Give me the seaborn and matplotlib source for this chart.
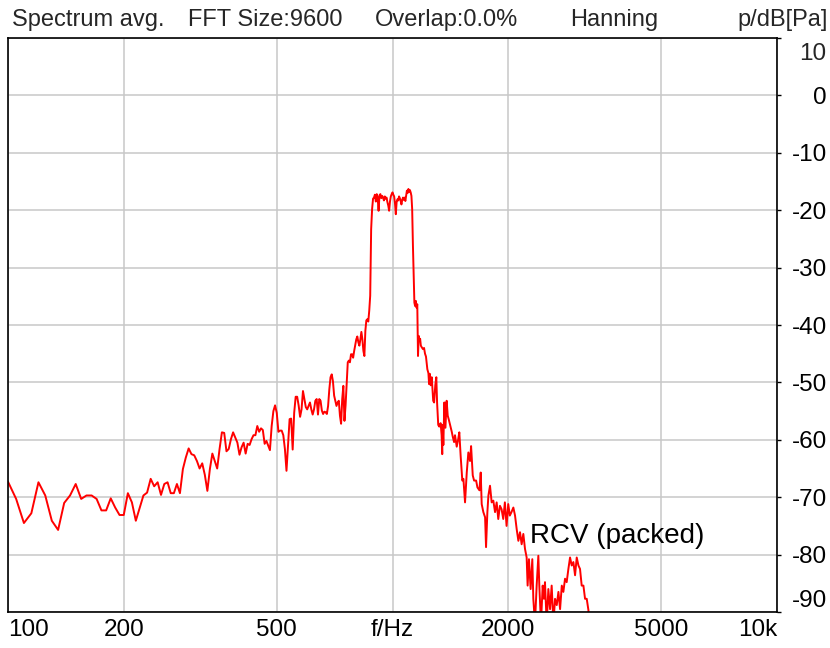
import matplotlib
matplotlib.use('Agg')
import matplotlib.pyplot as plt
from matplotlib.ticker import NullLocator
import numpy as np
import pandas as pd
import seaborn as sns

# 5 Hz FFT bins from 100 Hz up to 1165 Hz (dB re Pa)
bin_start_hz = 100
bin_step_hz = 5
band_db = [
    -67.3, -70.3, -74.5, -72.8, -67.4, -69.7, -74.1, -75.7, -71.0, -69.7,   # 100-145
    -67.7, -70.3, -69.7, -69.7, -70.3, -72.3, -72.3, -70.2, -71.8, -73.1,   # 150-195
    -73.1, -69.3, -70.9, -74.1, -71.9, -69.7, -69.2, -66.8, -68.1, -67.4,   # 200-245
    -69.6, -67.7, -67.4, -69.3, -69.3, -67.7, -69.3, -65.1, -63.1, -61.5,   # 250-295
    -62.5, -62.7, -63.7, -65.0, -64.1, -66.1, -68.9, -65.1, -62.4, -63.7,   # 300-345
    -65.0, -61.6, -58.7, -58.8, -62.0, -61.6, -59.9, -58.7, -59.6, -60.5,   # 350-395
    -62.6, -61.3, -60.5, -62.4, -60.7, -60.9, -59.9, -59.2, -59.2, -57.6,   # 400-445
    -58.6, -58.0, -58.3, -60.7, -60.2, -61.0, -61.8, -57.6, -55.0, -54.0,   # 450-495
    -55.3, -58.6, -58.4, -58.4, -59.2, -61.6, -65.4, -61.0, -56.4, -56.3,   # 500-545
    -61.7, -55.3, -52.5, -52.5, -54.0, -56.0, -54.7, -51.5, -52.9, -54.3,   # 550-595
    -54.7, -54.1, -53.5, -54.7, -55.6, -54.7, -53.2, -52.9, -55.6, -52.9,   # 600-645
    -53.2, -54.9, -55.5, -55.1, -55.2, -55.5, -54.1, -51.2, -49.1, -48.6,   # 650-695
    -49.8, -52.3, -53.2, -54.1, -53.5, -53.2, -55.8, -57.2, -52.9, -50.6,   # 700-745
    -56.7, -54.0, -50.3, -46.5, -46.2, -46.5, -45.1, -45.1, -45.7, -44.5,   # 750-795
    -43.5, -42.5, -42.0, -43.0, -43.6, -42.5, -41.2, -42.5, -44.5, -45.4,   # 800-845
    -41.0, -39.2, -39.0, -39.4, -37.5, -34.9, -23.3, -19.8, -18.0, -17.8,   # 850-895
    -17.3, -18.5, -17.2, -17.8, -20.1, -17.4, -17.2, -17.9, -17.5, -17.8,   # 900-945
    -18.3, -17.6, -18.0, -17.8, -18.6, -19.2, -20.1, -18.5, -17.6, -17.2,   # 950-995
    -16.9, -17.3, -17.6, -18.8, -20.7, -18.6, -18.1, -18.3, -17.6, -17.9,   # 1000-1045
    -18.4, -19.0, -18.2, -17.8, -18.2, -17.8, -18.4, -17.5, -16.6, -17.0,   # 1050-1095
    -16.3, -16.8, -16.5, -16.9, -17.5, -19.8, -26.0, -31.0, -36.1, -36.7,   # 1100-1145
    -35.8, -37.0, -36.4, -45.4,                                             # 1150-1165
]

# upper tail, read at the picture's resolution
tail_hz = [
    1170, 1175, 1180, 1185, 1192, 1200, 1208, 1215, 1222, 1232, 1240, 1245,
    1250, 1257, 1265, 1270, 1276, 1283, 1292, 1300, 1306, 1315, 1323, 1334,
    1342, 1347, 1350, 1356, 1364, 1373, 1383, 1392, 1400, 1412, 1426, 1435,
    1446, 1454, 1469, 1483, 1492, 1504, 1519, 1529, 1544, 1560, 1575, 1591,
    1601, 1617, 1630, 1650, 1663, 1683, 1696, 1706, 1723, 1741, 1751, 1765,
    1776, 1793, 1811, 1829, 1848, 1866, 1884, 1903, 1922, 1941, 1960, 1980,
    2000, 2019, 2039, 2062, 2083, 2104, 2125, 2146, 2167, 2189, 2211, 2233,
    2246, 2264, 2287, 2310, 2324, 2347, 2371, 2395, 2409, 2433, 2458, 2477,
    2492, 2518, 2543, 2569, 2594, 2621, 2647, 2674, 2701, 2728, 2756, 2782,
    2810, 2838, 2867, 2896, 2925, 2954, 2984, 3014, 3045, 3074, 3105, 3137,
    3168, 3200, 3233, 3250,
]
tail_db = [
    -41.9, -42.6, -42.4, -43.6, -43.9, -44.2, -44.0, -45.0, -45.5, -47.7, -48.4, -50.3,
    -48.5, -50.5, -49.1, -51.0, -53.2, -53.5, -50.5, -49.1, -53.5, -57.4, -57.7, -57.1,
    -59.2, -62.5, -57.4, -60.9, -53.5, -57.9, -53.2, -55.8, -56.4, -57.4, -58.6, -59.5,
    -60.4, -59.2, -61.2, -59.8, -58.7, -62.8, -67.1, -66.8, -70.9, -65.7, -62.2, -63.7,
    -61.1, -66.2, -67.1, -67.1, -68.3, -68.8, -65.7, -71.2, -72.6, -73.5, -78.7, -72.6,
    -69.7, -68.0, -70.9, -70.6, -72.6, -70.9, -73.8, -71.5, -72.1, -73.8, -70.9, -75.0,
    -71.2, -73.2, -72.6, -71.8, -73.2, -75.6, -77.6, -76.1, -78.2, -76.4, -79.0, -80.5,
    -85.4, -80.8, -86.0, -80.8, -87.7, -92.0, -85.4, -80.2, -85.4, -92.0, -85.4, -87.7,
    -84.8, -92.0, -86.0, -89.5, -85.4, -92.0, -87.7, -88.8, -86.5, -89.5, -85.4, -86.5,
    -84.2, -84.8, -82.5, -80.5, -81.9, -81.3, -83.6, -80.5, -81.9, -82.5, -85.4, -85.4,
    -87.7, -87.7, -89.7, -95.0,
]

x_ticks = [100, 200, 500, 1000, 2000, 5000, 10000]
x_tick_labels = ['100', '200', '500', 'f/Hz', '2000', '5000', '10k']
y_ticks = list(range(-90, 11, 10))

band_hz = bin_start_hz + bin_step_hz * np.arange(len(band_db))
df = pd.DataFrame({
    'freq': np.concatenate([band_hz, tail_hz]),
    'level': np.concatenate([band_db, tail_db]),
})

sns.set_theme(style='white')
plt.rcParams['font.family'] = ['Liberation Sans', 'DejaVu Sans']
fs = 17.5

fig = plt.figure(figsize=(8.3, 6.48), dpi=100)
ax = fig.add_axes([8 / 830, 36 / 648, 769 / 830, 574 / 648])

sns.lineplot(data=df, x='freq', y='level', ax=ax, color='#ff0000',
             linewidth=1.4, estimator=None, sort=False)

ax.set_xscale('log')
ax.set_xlim(100, 10000)
ax.set_ylim(-90, 10)
ax.set_xticks(x_ticks)
ax.set_xticklabels(x_tick_labels)
ax.xaxis.set_minor_locator(NullLocator())
ax.set_yticks(y_ticks)
# top label is drawn by hand, a bit lower than its tick
ax.set_yticklabels([str(v) if v != 10 else '' for v in y_ticks])
ax.yaxis.tick_right()
ax.set_xlabel('')
ax.set_ylabel('')

ax.grid(True, color='#c8c8c8', linewidth=1.1)
ax.set_axisbelow(True)
for sp in ax.spines.values():
    sp.set_visible(True)
    sp.set_color('black')
    sp.set_linewidth(1.2)

ax.tick_params(axis='x', direction='out', length=3, width=1, color='black',
               labelsize=fs, pad=2, labelcolor='black')
ax.tick_params(axis='y', direction='out', length=3, width=1, color='black',
               labelsize=fs, pad=33, labelcolor='black')

xl = ax.get_xticklabels()
xl[0].set_ha('left')
xl[-1].set_ha('right')
for lab in ax.get_yticklabels():
    lab.set_ha('right')
ax.get_yticklabels()[0].set_va('bottom')
fig.text(826 / 830, 1 - 54 / 648, '10', fontsize=fs, ha='right', va='center')

ax.text(2279, -76.8, 'RCV (packed)', fontsize=20, ha='left', va='center', color='black')

# header line
hy = 1 - 20 / 648
hfs = 17
fig.text(12 / 830, hy, 'Spectrum avg.', fontsize=hfs, ha='left', va='center')
fig.text(188 / 830, hy, 'FFT Size:9600', fontsize=hfs, ha='left', va='center')
fig.text(375 / 830, hy, 'Overlap:0.0%', fontsize=hfs, ha='left', va='center')
fig.text(570 / 830, hy, 'Hanning', fontsize=hfs, ha='left', va='center')
fig.text(828 / 830, hy, 'p/dB[Pa]', fontsize=hfs, ha='right', va='center')

fig.savefig('out.png', dpi=100)
